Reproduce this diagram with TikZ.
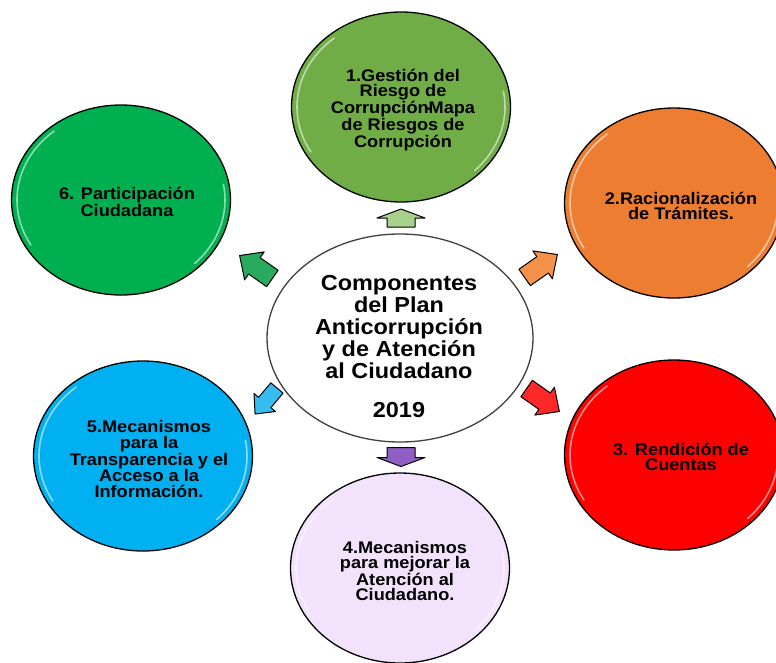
\documentclass[tikz,border=0pt]{standalone}
\usepackage{fontspec}
\setmainfont[FakeStretch=1.08]{Liberation Sans}
\usetikzlibrary{shapes.geometric}
\definecolor{cA}{RGB}{112,173,71}
\definecolor{cB}{RGB}{237,125,49}
\definecolor{cC}{RGB}{255,0,0}
\definecolor{cD}{RGB}{242,226,251}
\definecolor{cE}{RGB}{0,176,240}
\definecolor{cF}{RGB}{0,176,80}
\definecolor{aA}{RGB}{169,209,142}
\definecolor{aB}{RGB}{243,146,72}
\definecolor{aC}{RGB}{255,40,40}
\definecolor{aD}{RGB}{145,95,195}
\definecolor{aE}{RGB}{55,190,240}
\definecolor{aF}{RGB}{40,170,95}
\tikzset{
  comp/.style={ellipse, draw=black, line width=1.3pt, inner sep=0pt, minimum width=219pt, minimum height=190pt},
  lbl/.style={align=center, font=\fontsize{16.8}{15.5}\selectfont\bfseries, text=black, inner sep=0pt},
  hub/.style={ellipse, draw=black!75, line width=1.3pt, fill=white, inner sep=0pt, minimum width=266pt, minimum height=208pt},
  hublbl/.style={align=center, font=\fontsize{21.7}{22}\selectfont\bfseries, text=black, inner sep=0pt},
  glossline/.style={white, line width=1.6pt, opacity=.55, line cap=round}
}
\newcommand\blockarrow[7]{%
  \begin{scope}[shift={#1}, rotate=#2, x=1pt, y=1pt]
    \filldraw[fill=#3, draw=black, line width=1pt, line join=round]
      ({-#4/2},{-#5}) -- ({#4/2-#7},{-#5}) -- ({#4/2-#7},{-#6}) -- ({#4/2},0)
      -- ({#4/2-#7},{#6}) -- ({#4/2-#7},{#5}) -- ({-#4/2},{#5}) -- cycle;
  \end{scope}}
\newcommand\gloss[3]{%
  \begin{scope}[shift={(#1.center)}, x=1pt, y=1pt]
    \draw[glossline] (130:#2 and #3) arc[start angle=130, end angle=210, x radius=#2, y radius=#3];
    \draw[glossline] (-45:#2 and #3) arc[start angle=-45, end angle=10, x radius=#2, y radius=#3];
  \end{scope}}
\begin{document}
\begin{tikzpicture}[x=1pt, y=-1pt]
\useasboundingbox (0,0) rectangle (776,662);
\fill[white] (0,0) rectangle (776,662);
% component ellipses
\node[comp, fill=cA] (e1) at (401,107) {};
\node[comp, fill=cB] (e2) at (674,203) {};
\node[comp, fill=cC] (e3) at (674,455) {};
\node[comp, fill=cD] (e4) at (400,568) {};
\node[comp, fill=cE] (e5) at (143,456) {};
\node[comp, fill=cF] (e6) at (121,200) {};
\foreach \e in {e1,e2,e3,e4,e5,e6}{\gloss{\e}{104}{90}}
% hub
\node[hub] (hub) at (400,338) {};
% labels
\node[lbl] (t1) at (403,110) {1.Gestión del\\Riesgo de\\Corrupción\makebox[0pt]{-}Mapa\\de Riesgos de\\Corrupción};
\node[lbl] (t2) at (681,206) {2.Racionalización\\de Trámites.};
\node[lbl] (t3) at (681,457) {3. Rendición de\\Cuentas};
\node[lbl] (t4) at (405,571) {4.Mecanismos\\para mejorar la\\Atención al\\Ciudadano.};
\node[lbl] (t5) at (149,459) {5.Mecanismos\\para la\\Transparencia y el\\Acceso a la\\Información.};
\node[lbl] (t6) at (127,202) {6. Participación\\Ciudadana};
\node[hublbl] (ht) at (399,327) {Componentes\\del Plan\\Anticorrupción\\y de Atención\\al Ciudadano};
\node[hublbl] (yr) at (399,410) {2019};
% block arrows
\blockarrow{(401,218)}{90}{aA}{18}{14}{24}{9}
\blockarrow{(401,457)}{-90}{aD}{19}{14}{24}{9}
\blockarrow{(541,266)}{35}{aB}{40}{10}{17}{18}
\blockarrow{(543,400)}{-35}{aC}{40}{10}{17}{18}
\blockarrow{(256,267)}{145}{aF}{40}{10}{17}{18}
\blockarrow{(266,401)}{-130}{aE}{34}{8}{14}{15}
\end{tikzpicture}
\end{document}
